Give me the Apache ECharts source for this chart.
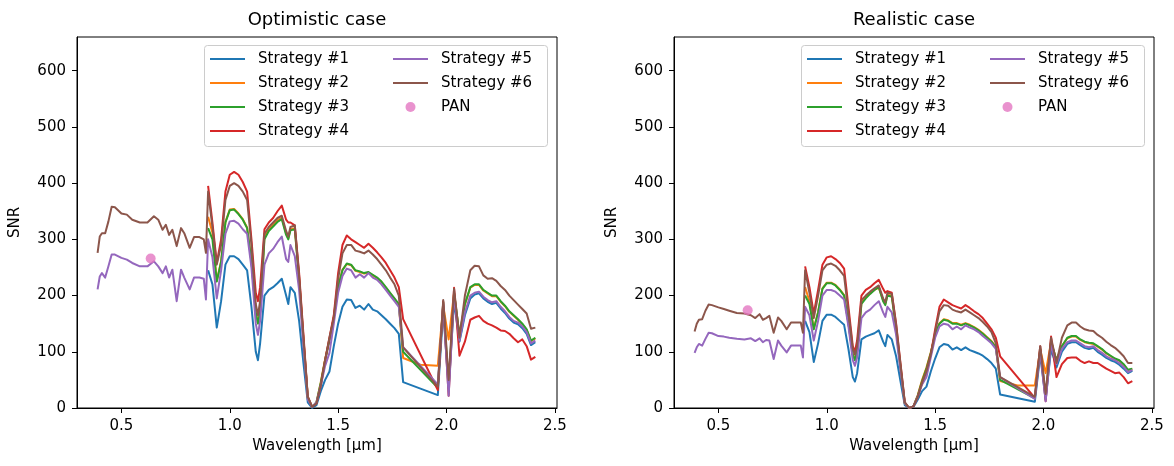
<!DOCTYPE html>
<html>
<head>
<meta charset="utf-8">
<script src="https://cdn.jsdelivr.net/npm/echarts@6/dist/echarts.min.js"></script>
<style>
  html, body { margin: 0; padding: 0; background: #fff; }
  #chart { width: 1174px; height: 466px; }
</style>
</head>
<body>
<div id="chart"></div>
<script>
// Wavelength samples [µm]: visible/NIR part (strategies #5, #6 only) and SWIR part (all strategies)
const vnirWl = [0.39, 0.40, 0.41, 0.425, 0.44, 0.455, 0.47, 0.50, 0.525, 0.55, 0.585, 0.62, 0.65,
  0.67, 0.69, 0.705, 0.72, 0.735, 0.755, 0.775, 0.79, 0.815, 0.835, 0.86, 0.88, 0.89];
const swirWl = [0.90, 0.92, 0.94, 0.96, 0.98, 1.00, 1.02, 1.04, 1.06, 1.08, 1.10, 1.12, 1.13, 1.14, 1.16,
  1.18, 1.20, 1.22, 1.24, 1.26, 1.27, 1.28, 1.30, 1.32, 1.34, 1.36, 1.38, 1.40, 1.42, 1.44,
  1.46, 1.48, 1.50, 1.52, 1.54, 1.56, 1.58, 1.60, 1.62, 1.64, 1.66, 1.68, 1.70, 1.72, 1.74,
  1.76, 1.78, 1.80, 1.88, 1.96, 1.985, 2.01, 2.035, 2.06, 2.085, 2.11, 2.13, 2.15, 2.17, 2.19,
  2.21, 2.23, 2.25, 2.27, 2.29, 2.31, 2.33, 2.35, 2.37, 2.39, 2.41];

// Optimistic case SNR
const optVnir5 = [211, 234, 240, 232, 252, 273, 273, 267, 264, 258, 252, 252, 261, 252, 240, 252, 232, 246, 190, 246, 232, 211, 232, 232, 230, 193];
const optVnir6 = [276, 305, 311, 311, 332, 358, 357, 346, 344, 335, 330, 330, 341, 335, 317, 326, 308, 317, 288, 320, 311, 285, 304, 304, 300, 276];
const optSwir1 = [245, 220, 143, 190, 255, 270, 270, 265, 255, 245, 180, 100, 85, 115, 200, 210, 215, 222, 230, 200,
  185, 215, 205, 155, 80, 10, 0, 5, 30, 50, 65, 110, 150, 180, 193, 192, 178, 182, 175, 185,
  175, 172, 165, 158, 150, 142, 132, 46, null, 23, 175, 35, 190, 118, 165, 195, 202, 204, 195, 189,
  185, 187, 177, 169, 159, 152, 149, 142, 132, 112, 117];
const optSwir2 = [340, 312, 226, 261, 331, 353, 354, 346, 336, 321, 261, 171, 151, 172, 305, 318, 326, 334, 338, 311,
  302, 318, 320, 232, 122, 18, 2, 10, 46, 87, 122, 162, 216, 246, 256, 254, 244, 242, 239, 241,
  236, 231, 224, 214, 204, 194, 184, 89, 77, 75, 182, 122, 205, 128, 184, 214, 219, 219, 209, 204,
  199, 199, 189, 181, 171, 164, 157, 149, 139, 119, 124];
const optSwir3 = [320, 300, 225, 260, 330, 352, 353, 345, 335, 320, 260, 170, 150, 170, 300, 315, 323, 331, 336, 308,
  300, 316, 318, 228, 120, 18, 2, 10, 45, 85, 120, 160, 215, 245, 257, 255, 245, 243, 240, 242,
  237, 232, 225, 215, 205, 195, 185, 100, null, 36, 188, 40, 205, 130, 185, 215, 220, 220, 210, 205,
  200, 200, 190, 182, 172, 165, 158, 150, 140, 120, 125];
const optSwir4 = [395, 330, 258, 300, 385, 415, 420, 415, 402, 385, 300, 205, 190, 215, 318, 330, 338, 350, 360, 335,
  330, 330, 325, 240, 130, 20, 2, 8, 40, 85, 125, 165, 240, 290, 307, 300, 295, 290, 285, 292,
  285, 277, 268, 258, 245, 232, 215, 158, null, 32, 190, 22, 214, 93, 118, 157, 161, 164, 155, 150,
  147, 143, 138, 137, 132, 124, 117, 122, 110, 86, 91];
const optSwir5 = [300, 268, 195, 245, 310, 332, 333, 328, 318, 310, 250, 150, 130, 155, 255, 275, 283, 295, 305, 265,
  260, 290, 270, 210, 110, 15, 2, 10, 40, 75, 98, 150, 205, 235, 248, 245, 232, 238, 232, 240,
  232, 228, 220, 210, 200, 190, 180, 108, null, 42, 185, 22, 200, 120, 170, 200, 205, 207, 198, 192,
  188, 190, 180, 172, 162, 155, 152, 145, 135, 115, 120];
const optSwir6 = [385, 322, 255, 290, 370, 395, 400, 395, 385, 370, 290, 185, 165, 190, 310, 322, 330, 338, 342, 315,
  305, 322, 325, 235, 125, 20, 2, 8, 40, 85, 125, 160, 230, 275, 290, 290, 280, 278, 275, 280,
  273, 265, 255, 245, 232, 220, 200, 108, null, 38, 192, 50, 212, 125, 200, 245, 253, 252, 236, 230,
  231, 226, 217, 210, 200, 192, 184, 176, 168, 141, 143];

// Realistic case SNR
const realVnir5 = [98, 108, 114, 111, 123, 134, 133, 128, 127, 125, 123, 122, 124, 119, 124, 117, 121, 120, 87, 120, 111, 99, 111, 111, 111, 90];
const realVnir6 = [136, 150, 157, 158, 173, 184, 183, 179, 176, 173, 169, 168, 165, 160, 167, 157, 160, 164, 134, 161, 155, 140, 152, 152, 152, 134];
const realSwir1 = [155, 135, 82, 115, 155, 166, 166, 162, 155, 148, 105, 55, 47, 62, 122, 127, 130, 133, 138, 118,
  110, 130, 122, 92, 48, 5, 0, 2, 15, 30, 38, 65, 88, 108, 114, 112, 104, 108, 103, 108,
  103, 100, 97, 93, 87, 80, 70, 24, null, 11, 95, 15, 105, 72, 100, 114, 117, 117, 112, 107,
  105, 107, 100, 95, 89, 85, 82, 77, 70, 62, 66];
const realSwir2 = [215, 190, 141, 171, 213, 223, 223, 219, 211, 201, 151, 96, 86, 101, 188, 197, 204, 210, 214, 192,
  185, 201, 200, 142, 74, 8, 0, 3, 23, 50, 72, 99, 131, 151, 158, 156, 151, 151, 148, 151,
  148, 144, 139, 133, 126, 119, 109, 48, 40, 40, 104, 62, 118, 85, 110, 124, 127, 127, 121, 117,
  115, 114, 109, 104, 97, 92, 87, 84, 77, 67, 69];
const realSwir3 = [200, 185, 140, 170, 212, 222, 222, 218, 210, 200, 150, 95, 85, 100, 185, 195, 203, 210, 215, 190,
  183, 200, 198, 140, 72, 8, 0, 3, 22, 48, 70, 98, 130, 150, 157, 155, 150, 150, 147, 150,
  147, 143, 138, 132, 125, 118, 108, 50, null, 17, 105, 20, 118, 85, 110, 125, 128, 128, 122, 118,
  116, 115, 110, 105, 98, 93, 88, 85, 78, 68, 70];
const realSwir4 = [252, 215, 168, 210, 255, 268, 270, 265, 258, 248, 180, 110, 100, 120, 200, 210, 215, 222, 228, 212,
  205, 208, 205, 150, 80, 10, 0, 3, 20, 45, 65, 95, 140, 180, 193, 188, 183, 180, 177, 183,
  178, 172, 167, 160, 150, 140, 125, 92, null, 18, 110, 12, 127, 55, 78, 89, 90, 90, 84, 80,
  83, 80, 80, 75, 70, 66, 62, 63, 55, 44, 48];
const realSwir5 = [180, 165, 120, 155, 200, 210, 210, 207, 200, 193, 145, 85, 75, 90, 160, 170, 175, 183, 190, 170,
  162, 180, 170, 130, 68, 8, 0, 3, 20, 42, 55, 90, 125, 145, 150, 148, 140, 145, 140, 147,
  143, 140, 135, 128, 122, 115, 105, 55, null, 16, 100, 12, 112, 78, 105, 117, 120, 120, 115, 110,
  108, 110, 103, 98, 92, 88, 85, 80, 73, 64, 68];
const realSwir6 = [245, 205, 160, 200, 245, 255, 257, 253, 245, 235, 170, 105, 95, 110, 192, 200, 207, 213, 218, 195,
  188, 205, 203, 148, 78, 10, 0, 3, 20, 45, 65, 95, 135, 172, 183, 182, 175, 172, 170, 175,
  170, 165, 160, 153, 145, 135, 115, 55, null, 20, 110, 25, 125, 80, 125, 147, 152, 152, 145, 140,
  138, 137, 130, 125, 118, 112, 107, 100, 92, 80, 80];

// Panchromatic band
const panWl = 0.635;
const optPan = 266;
const realPan = 174;

// Labels and ticks
const strategyNames = ['Strategy #1', 'Strategy #2', 'Strategy #3', 'Strategy #4', 'Strategy #5', 'Strategy #6'];
const panName = 'PAN';
const panelTitles = ['Optimistic case', 'Realistic case'];
const xTicks = [0.5, 1.0, 1.5, 2.0, 2.5];
const yTicks = [0, 100, 200, 300, 400, 500, 600];
const xTitle = 'Wavelength [µm]';
const yTitle = 'SNR';

const colors = ['#1f77b4', '#ff7f0e', '#2ca02c', '#d62728', '#9467bd', '#8c564b'];
const panColor = '#e377c2';
const FONT = 'DejaVu Sans';

const panels = [
  { swir: [optSwir1, optSwir2, optSwir3, optSwir4, optSwir5, optSwir6], vnir5: optVnir5, vnir6: optVnir6, pan: optPan },
  { swir: [realSwir1, realSwir2, realSwir3, realSwir4, realSwir5, realSwir6], vnir5: realVnir5, vnir6: realVnir6, pan: realPan }
];

function pairs(xs, ys) { return xs.map((x, i) => [x, ys[i]]); }

// Legend entries for line series: plain line handle, no marker
function lineEntry(name) { return { name: name, itemStyle: { opacity: 0 } }; }

// Panel geometry (pixels)
const gridLefts = [77, 674];
const gridTop = 37, gridW = 480, gridH = 371;

const grids = [], xAxes = [], yAxes = [], series = [], legends = [], graphics = [];

panels.forEach((p, g) => {
  const gl = gridLefts[g];
  grids.push({ left: gl, top: gridTop, width: gridW, height: gridH, show: true,
    borderColor: '#000', borderWidth: 1, backgroundColor: 'rgba(0,0,0,0)' });

  xAxes.push({
    gridIndex: g, type: 'value', min: 0.295, max: 2.51,
    name: xTitle, nameLocation: 'middle', nameGap: 27,
    nameTextStyle: { fontSize: 15, color: '#000', fontFamily: FONT },
    axisLine: { show: true, onZero: false, lineStyle: { color: '#000', width: 1 } },
    axisTick: { show: true, length: 5, customValues: xTicks, lineStyle: { color: '#000' } },
    axisLabel: { customValues: xTicks, formatter: v => v.toFixed(1), fontSize: 15, color: '#000', margin: 11, fontFamily: FONT },
    splitLine: { show: false }
  });

  yAxes.push({
    gridIndex: g, type: 'value', min: 0, max: 660,
    name: yTitle, nameLocation: 'middle', nameGap: 54, nameRotate: 90,
    nameTextStyle: { fontSize: 15, color: '#000', fontFamily: FONT },
    axisLine: { show: true, onZero: false, lineStyle: { color: '#000', width: 1 } },
    axisTick: { show: true, length: 5, customValues: yTicks, lineStyle: { color: '#000' } },
    axisLabel: { customValues: yTicks, formatter: v => String(v), fontSize: 15, color: '#000', margin: 11, fontFamily: FONT },
    splitLine: { show: false }
  });

  p.swir.forEach((vals, k) => {
    let data = pairs(swirWl, vals);
    if (k === 4) data = pairs(vnirWl, p.vnir5).concat(data);
    if (k === 5) data = pairs(vnirWl, p.vnir6).concat(data);
    series.push({
      name: strategyNames[k], type: 'line', xAxisIndex: g, yAxisIndex: g,
      data: data, symbol: 'none', connectNulls: true, silent: true,
      lineStyle: { width: 2, color: colors[k], join: 'round' },
      itemStyle: { color: colors[k] }, z: 2
    });
  });

  series.push({
    name: panName, type: 'scatter', xAxisIndex: g, yAxisIndex: g,
    data: [[panWl, p.pan]], symbol: 'circle', symbolSize: 10,
    itemStyle: { color: panColor }, z: 3
  });

  // Legend in two columns inside a framed box
  const boxLeft = g === 0 ? 204 : 801;
  graphics.push({
    type: 'rect', left: boxLeft, top: 45, z: 3,
    shape: { width: 343, height: 101, r: 3 },
    style: { fill: 'rgba(255,255,255,0.8)', stroke: '#cccccc', lineWidth: 1 }
  });
  const legendBase = {
    orient: 'vertical', top: 51, padding: 0, itemWidth: 35, itemHeight: 10, itemGap: 8,
    selectedMode: false, z: 4,
    textStyle: { fontSize: 15, color: '#000', fontFamily: FONT, lineHeight: 16, padding: [0, 0, 0, 8] }
  };
  legends.push(Object.assign({}, legendBase, {
    left: boxLeft + 5, data: strategyNames.slice(0, 4).map(lineEntry)
  }));
  legends.push(Object.assign({}, legendBase, {
    left: boxLeft + 188,
    data: [lineEntry(strategyNames[4]), lineEntry(strategyNames[5]), { name: panName, icon: 'circle' }]
  }));

  graphics.push({
    type: 'text', x: gl + gridW / 2, y: 20, z: 5,
    style: { text: panelTitles[g], align: 'center', verticalAlign: 'middle', fontSize: 18, fill: '#000', fontFamily: FONT }
  });
});

const chart = echarts.init(document.getElementById('chart'), null, { renderer: 'canvas' });
chart.setOption({
  animation: false,
  backgroundColor: '#fff',
  textStyle: { fontFamily: FONT },
  grid: grids,
  xAxis: xAxes,
  yAxis: yAxes,
  legend: legends,
  graphic: graphics,
  series: series
});
</script>
</body>
</html>
